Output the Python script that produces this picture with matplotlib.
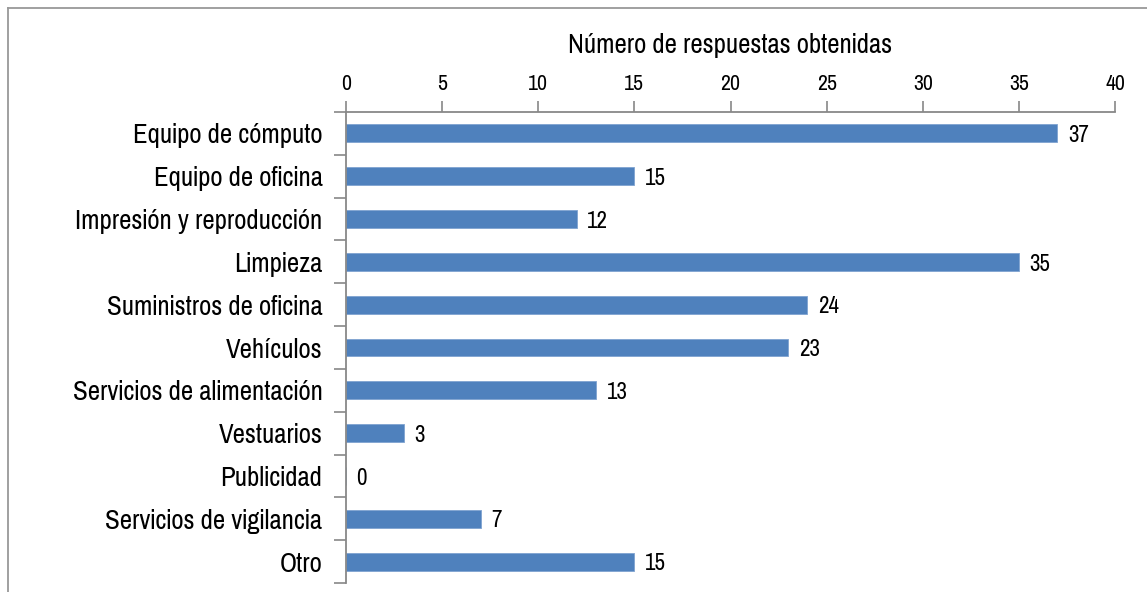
import matplotlib
matplotlib.use("Agg")
import matplotlib.pyplot as plt
from matplotlib import font_manager
from matplotlib.lines import Line2D

categories = ["Equipo de cómputo", "Equipo de oficina", "Impresión y reproducción",
              "Limpieza", "Suministros de oficina", "Vehículos",
              "Servicios de alimentación", "Vestuarios", "Publicidad",
              "Servicios de vigilancia", "Otro"]
values = [37, 15, 12, 35, 24, 23, 13, 3, 0, 7, 15]
xticks = [0, 5, 10, 15, 20, 25, 30, 35, 40]
title = "Número de respuestas obtenidas"

names = {f.name for f in font_manager.fontManager.ttflist}
prefs = ["Liberation Sans Narrow", "Arimo Narrow", "Pragati Narrow", "Roboto Condensed",
         "Archivo Narrow", "Liberation Sans"]
fam = [p for p in prefs if p in names][:1] or ["Liberation Sans"]
plt.rcParams['font.family'] = fam + ["DejaVu Sans"]

W, H = 1147, 592
fig = plt.figure(figsize=(W / 100, H / 100), dpi=100)
ax = fig.add_axes([346 / W, 1 - 583 / H, (1115 - 346) / W, (583 - 112) / H])

ypos = list(range(len(categories)))
ax.barh(ypos, values, height=0.42, color="#4F81BD", edgecolor="#7FA3D0", linewidth=0.6)
ax.set_ylim(len(categories) - 0.5, -0.5)
ax.set_xlim(0, 40)

ax.xaxis.tick_top()
ax.xaxis.set_label_position("top")
ax.set_xticks(xticks)
ax.set_xticklabels([str(t) for t in xticks], fontsize=17)
ax.set_xlabel(title, fontsize=21, labelpad=15)

ax.set_yticks(ypos)
ax.set_yticklabels(categories, fontsize=21)
ax.tick_params(axis="y", length=0, pad=17)
# tick marks at category boundaries
ax.set_yticks([i - 0.5 for i in range(len(categories) + 1)], minor=True)
ax.tick_params(axis="y", which="minor", length=9, color="#888888", width=1.2)
ax.tick_params(axis="x", length=8, color="#888888", width=1.2, pad=5)

for s in ["right", "bottom"]:
    ax.spines[s].set_visible(False)
for s in ["left", "top"]:
    ax.spines[s].set_color("#888888")
    ax.spines[s].set_linewidth(1.3)

for y, v in zip(ypos, values):
    ax.text(v + 0.55, y + 0.05, str(v), va="center", ha="left", fontsize=18)

# outer frame (top and left edges visible)
fig.add_artist(Line2D([8 / W, 1.0], [1 - 8 / H, 1 - 8 / H], transform=fig.transFigure,
                      color="#999999", linewidth=1.3))
fig.add_artist(Line2D([8 / W, 8 / W], [0.0, 1 - 8 / H], transform=fig.transFigure,
                      color="#999999", linewidth=1.3))

fig.savefig("out.png", dpi=100)
